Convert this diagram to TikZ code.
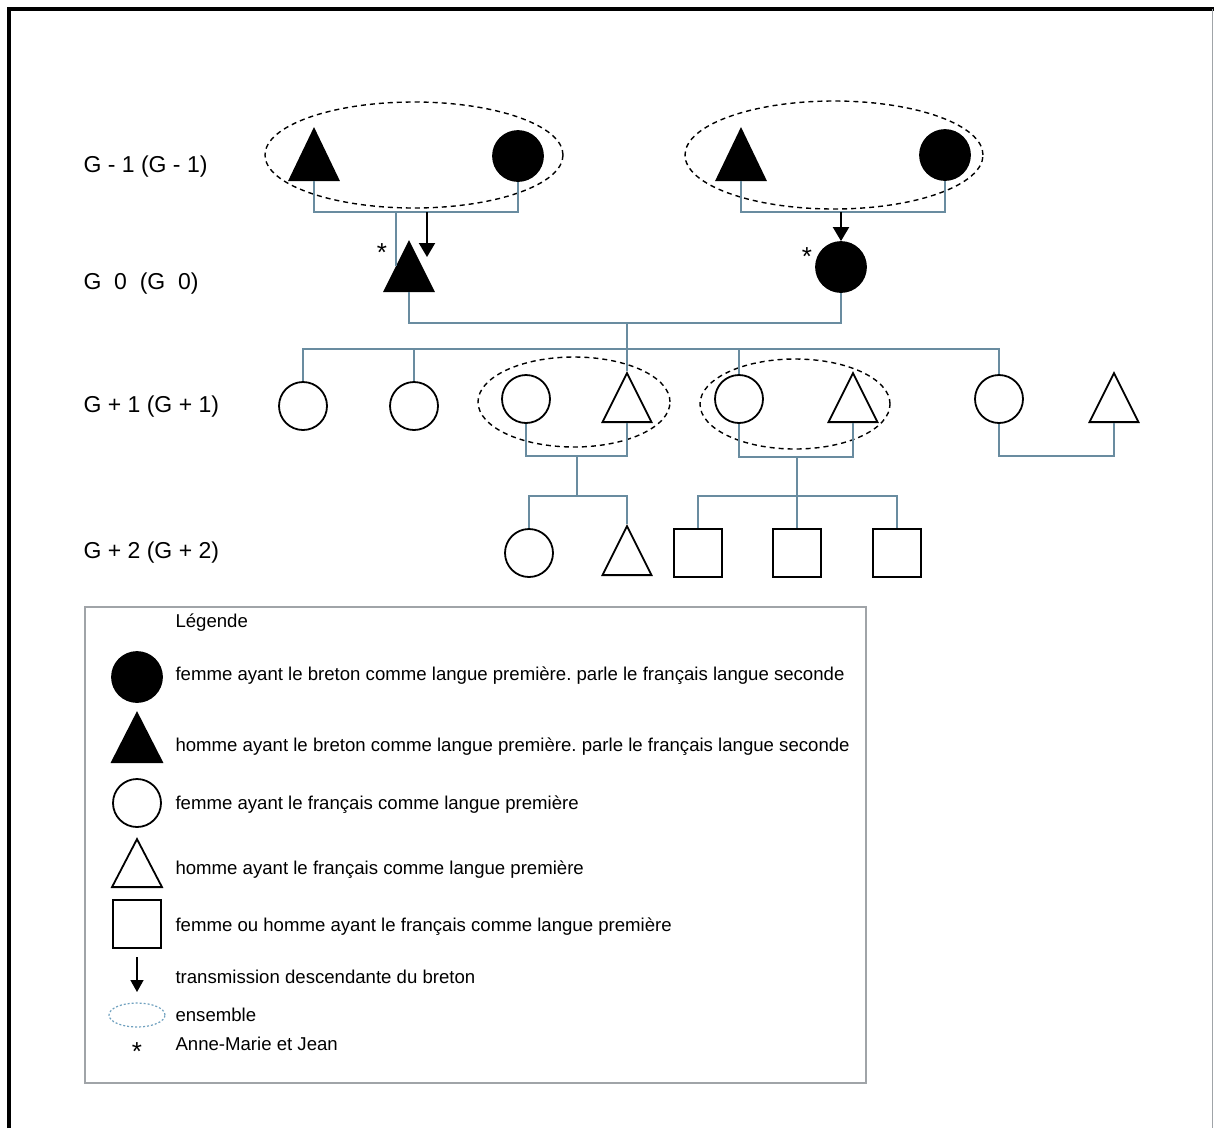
\documentclass[tikz,border=0pt]{standalone}
\usepackage{fontspec}
\setmainfont{Liberation Sans}
\usepackage{xcolor}
\usepackage{tikz}
\usetikzlibrary{shapes.geometric,arrows.meta,positioning}
\frenchspacing

\definecolor{lien}{RGB}{105,140,160}
\definecolor{cadre}{RGB}{160,164,168}
\definecolor{ensbleu}{RGB}{110,160,190}

\begin{document}
\begin{tikzpicture}[
    x=1pt, y=-1pt,
    femme/.style={circle, draw, line width=1.8pt, minimum size=48pt, inner sep=0pt},
    homme/.style={isosceles triangle, isosceles triangle stretches, shape border rotate=90, draw, line width=1.8pt, minimum width=49pt, minimum height=49pt, inner sep=0pt, anchor=lower side},
    indiv/.style={rectangle, draw, line width=1.8pt, minimum size=48pt, inner sep=0pt},
    breton/.style={fill=black},
    ensemble/.style={ellipse, draw, line width=1.4pt, dash pattern=on 5pt off 4pt, inner sep=0pt},
    trait/.style={lien, line width=1.1pt},
    arrow/.style={-{Triangle[width=16pt,length=14pt]}, line width=2pt},
    gen/.style={anchor=west, font=\fontsize{23}{27}\selectfont},
    legtext/.style={anchor=west, font=\fontsize{18.6}{22}\selectfont},
    etoile/.style={font=\fontsize{26}{28}\selectfont, inner sep=0pt}
]
    \useasboundingbox (0,0) rectangle (1214,1128);
    \draw[line width=4pt] (9,1128) -- (9,9) -- (1214,9);
    \draw[cadre, line width=1pt] (1212,9) -- (1212,1128);

    \node[gen] (gm1) at (80,167) {G - 1 (G - 1)};
    \node[gen] (g0) at (80,284) {G\ \ 0\ \ (G\ \ 0)};
    \node[gen] (gp1) at (80,407) {G + 1 (G + 1)};
    \node[gen] (gp2) at (80,553) {G + 2 (G + 2)};

    \node[ensemble, minimum width=298pt, minimum height=106pt] (ens1) at (414,155) {};
    \node[ensemble, minimum width=298pt, minimum height=108pt] (ens2) at (834,155) {};
    \node[homme, breton, minimum height=51pt] (pa1) at (314,181) {};
    \node[femme, breton, minimum size=50pt] (ma1) at (518,156) {};
    \node[homme, breton, minimum height=51pt] (pa2) at (741,181) {};
    \node[femme, breton, minimum size=50pt] (ma2) at (945,155) {};

    \node[homme, breton] (jean) at (409,292) {};
    \node[femme, breton, minimum size=50pt] (annemarie) at (841,267) {};
    \node[etoile] (ast1) at (382,253) {*};
    \node[etoile] (ast2) at (807,257) {*};

    \coordinate (c1) at (396,212);
    \coordinate (d1) at (427,212);
    \coordinate (d1b) at (427,257);
    \coordinate (c2) at (841,212);
    \draw[trait] (pa1.lower side) |- (c1) -| (ma1.south);
    \draw[trait] (c1) -- (c1 |- jean.left side);
    \draw[arrow] (d1) -- (d1b);
    \draw[trait] (pa2.lower side) |- (c2) -| (ma2.south);
    \draw[arrow] (c2) -- (annemarie.north);

    \node[ensemble, minimum width=192pt, minimum height=90pt] (ens3) at (574,402) {};
    \node[ensemble, minimum width=190pt, minimum height=90pt] (ens4) at (795,404) {};
    \node[femme] (f1) at (303,406) {};
    \node[femme] (f2) at (414,406) {};
    \node[femme] (f3) at (526,399) {};
    \node[homme] (h1) at (627,423) {};
    \node[femme] (f4) at (739,399) {};
    \node[homme] (h2) at (853,423) {};
    \node[femme] (f5) at (999,399) {};
    \node[homme] (h3) at (1114,423) {};

    \coordinate (c0) at (627,323);
    \coordinate (s0) at (627,349);
    \draw[trait] (jean.lower side) |- (c0) -| (annemarie.south);
    \draw[trait] (c0) -- (h1.apex);
    \draw[trait] (f1.north) |- (s0) -| (f5.north);
    \draw[trait] (f2.north) -- (f2.north |- s0);
    \draw[trait] (f4.north) -- (f4.north |- s0);

    \coordinate (c3) at (577,456);
    \coordinate (c4) at (797,457);
    \coordinate (c5) at (1050,456);
    \draw[trait] (f3.south) |- (c3) -| (h1.lower side);
    \draw[trait] (f4.south) |- (c4) -| (h2.lower side);
    \draw[trait] (f5.south) |- (c5) -| (h3.lower side);

    \node[femme] (k1) at (529,553) {};
    \node[homme] (k2) at (627,576) {};
    \node[indiv] (k3) at (698,553) {};
    \node[indiv] (k4) at (797,553) {};
    \node[indiv] (k5) at (897,553) {};

    \coordinate (s3) at (577,496);
    \coordinate (s4) at (797,496);
    \draw[trait] (c3) -- (s3);
    \draw[trait] (k1.north) |- (s3) -| (k2.apex);
    \draw[trait] (c4) -- (k4.north);
    \draw[trait] (k3.north) |- (s4) -| (k5.north);

    \node[draw=cadre, line width=2pt, minimum width=781pt, minimum height=476pt, inner sep=0pt] (legende) at (475.5,845) {};
    \node[legtext] (titre) at (172,623) {Légende};
    \node[femme, breton, minimum size=50pt] (l1) at (137,677) {};
    \node[homme, breton, minimum width=50pt] (l2) at (137,763) {};
    \node[femme] (l3) at (137,803) {};
    \node[homme, minimum width=50pt, minimum height=48pt] (l4) at (137,888) {};
    \node[indiv] (l5) at (137,924) {};
    \coordinate (l6) at (137,957);
    \coordinate (l6b) at (137,992);
    \draw[arrow, -{Triangle[width=13pt,length=12pt]}, line width=1.6pt] (l6) -- (l6b);
    \node[ellipse, draw=ensbleu, dash pattern=on 2pt off 2pt, line width=1.2pt, minimum width=56pt, minimum height=24pt, inner sep=0pt] (l7) at (137,1015) {};
    \node[etoile] (l8) at (137,1052) {*};

    \node[legtext] (t1) at (172,676) {femme ayant le breton comme langue première. parle le français langue seconde};
    \node[legtext] (t2) at (172,747) {homme ayant le breton comme langue première. parle le français langue seconde};
    \node[legtext] (t3) at (172,805) {femme ayant le français comme langue première};
    \node[legtext] (t4) at (172,870) {homme ayant le français comme langue première};
    \node[legtext] (t5) at (172,927) {femme ou homme ayant le français comme langue première};
    \node[legtext] (t6) at (172,977) {transmission descendante du breton};
    \node[legtext] (t7) at (172,1015) {ensemble};
    \node[legtext] (t8) at (172,1044) {Anne-Marie et Jean};
\end{tikzpicture}
\end{document}
